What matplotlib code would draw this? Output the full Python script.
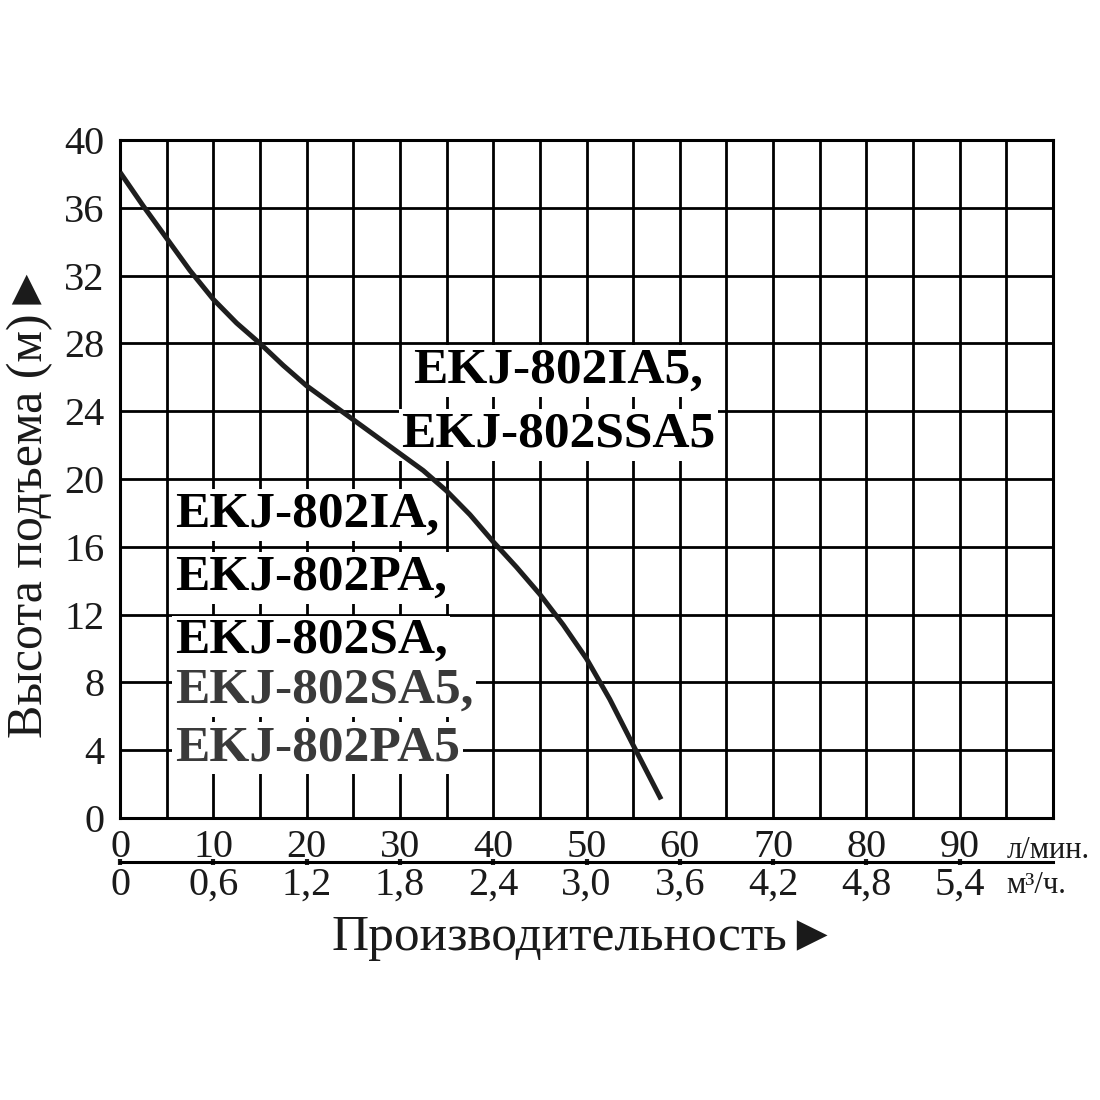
import numpy as np
import matplotlib.pyplot as plt

plt.rcParams['font.family'] = ['Liberation Serif', 'DejaVu Serif']

# Q-H curve (flow in l/min, head in m)
flow = [0, 2.5, 5, 7.5, 10, 12.5, 15, 17.5, 20, 22.5, 25, 27.5, 30, 32.5, 35,
        37.5, 40, 42.5, 45, 47.5, 50, 52.5, 55, 58]
head = [38.1, 36.1, 34.2, 32.3, 30.6, 29.2, 28.0, 26.7, 25.5, 24.5, 23.5, 22.5,
        21.5, 20.5, 19.3, 17.9, 16.3, 14.8, 13.2, 11.4, 9.4, 7.0, 4.3, 1.1]

flow_ticks = [0, 10, 20, 30, 40, 50, 60, 70, 80, 90]
m3h_ticks = [0, 0.6, 1.2, 1.8, 2.4, 3.0, 3.6, 4.2, 4.8, 5.4]
m3h_labels = ['0', '0,6', '1,2', '1,8', '2,4', '3,0', '3,6', '4,2', '4,8', '5,4']
head_ticks = [0, 4, 8, 12, 16, 20, 24, 28, 32, 36, 40]

models_top = ['EKJ-802IA5,', 'EKJ-802SSA5']
models_low = ['EKJ-802IA,', 'EKJ-802PA,', 'EKJ-802SA,', 'EKJ-802SA5,', 'EKJ-802PA5']
models_low_colors = ['#000000', '#000000', '#000000', '#3a3a3a', '#3a3a3a']

fig = plt.figure(figsize=(11, 11), dpi=100)
ax = fig.add_axes([120 / 1100, 1 - 818 / 1100, 933 / 1100, 678 / 1100])

ax.plot(flow, head, color='#1e1e1e', linewidth=3.6, zorder=5,
        solid_capstyle='butt', solid_joinstyle='round')

ax.set_xlim(0, 100)
ax.set_ylim(0, 40)
ax.set_xticks(np.arange(0, 101, 5))
ax.set_xticklabels([str(v) if v in flow_ticks else '' for v in range(0, 101, 5)])
ax.set_yticks(head_ticks)
ax.set_axisbelow(True)
ax.grid(True, color='black', linewidth=2)
for s in ax.spines.values():
    s.set_linewidth(2.2)
ax.tick_params(axis='both', length=0, labelsize=29, colors='#1a1a1a')
ax.tick_params(axis='x', pad=8)
ax.tick_params(axis='y', pad=11)

# second flow scale in m3/h
sec = ax.secondary_xaxis(-0.065, functions=(lambda x: x * 0.06, lambda x: x / 0.06))
sec.set_xticks(m3h_ticks, m3h_labels)
sec.spines['bottom'].set_linewidth(2.2)
sec.tick_params(axis='x', direction='inout', length=5, width=3, labelsize=29,
                pad=1, colors='#1a1a1a')

ax.text(95.0, -0.048, 'л/мин.', transform=ax.get_xaxis_transform(),
        fontsize=22, va='center', ha='left', color='#1a1a1a')
ax.text(95.0, -0.1, 'м³/ч.', transform=ax.get_xaxis_transform(),
        fontsize=22, va='center', ha='left', color='#1a1a1a')

box = dict(facecolor='white', edgecolor='none', pad=2)
for name, y in zip(models_top, [25.66, 21.89]):
    ax.text(47.0, y, name, fontsize=37, fontweight='bold', ha='center',
            va='baseline', bbox=box, zorder=4)
for name, y, c in zip(models_low, [17.17, 13.45, 9.73, 6.78, 3.42], models_low_colors):
    ax.text(5.9, y, name, fontsize=37, fontweight='bold', ha='left',
            va='baseline', color=c, bbox=box, zorder=4)

fig.text(30 / 1100, 1 - 501 / 1100, 'Высота подъема (м)►', rotation=90,
         fontsize=36, ha='center', va='center', color='#1a1a1a')
fig.text(585 / 1100, 1 - 950 / 1100, 'Производительность►',
         fontsize=37, ha='center', va='baseline', color='#1a1a1a')

fig.savefig('out.png', dpi=100, facecolor='white')
